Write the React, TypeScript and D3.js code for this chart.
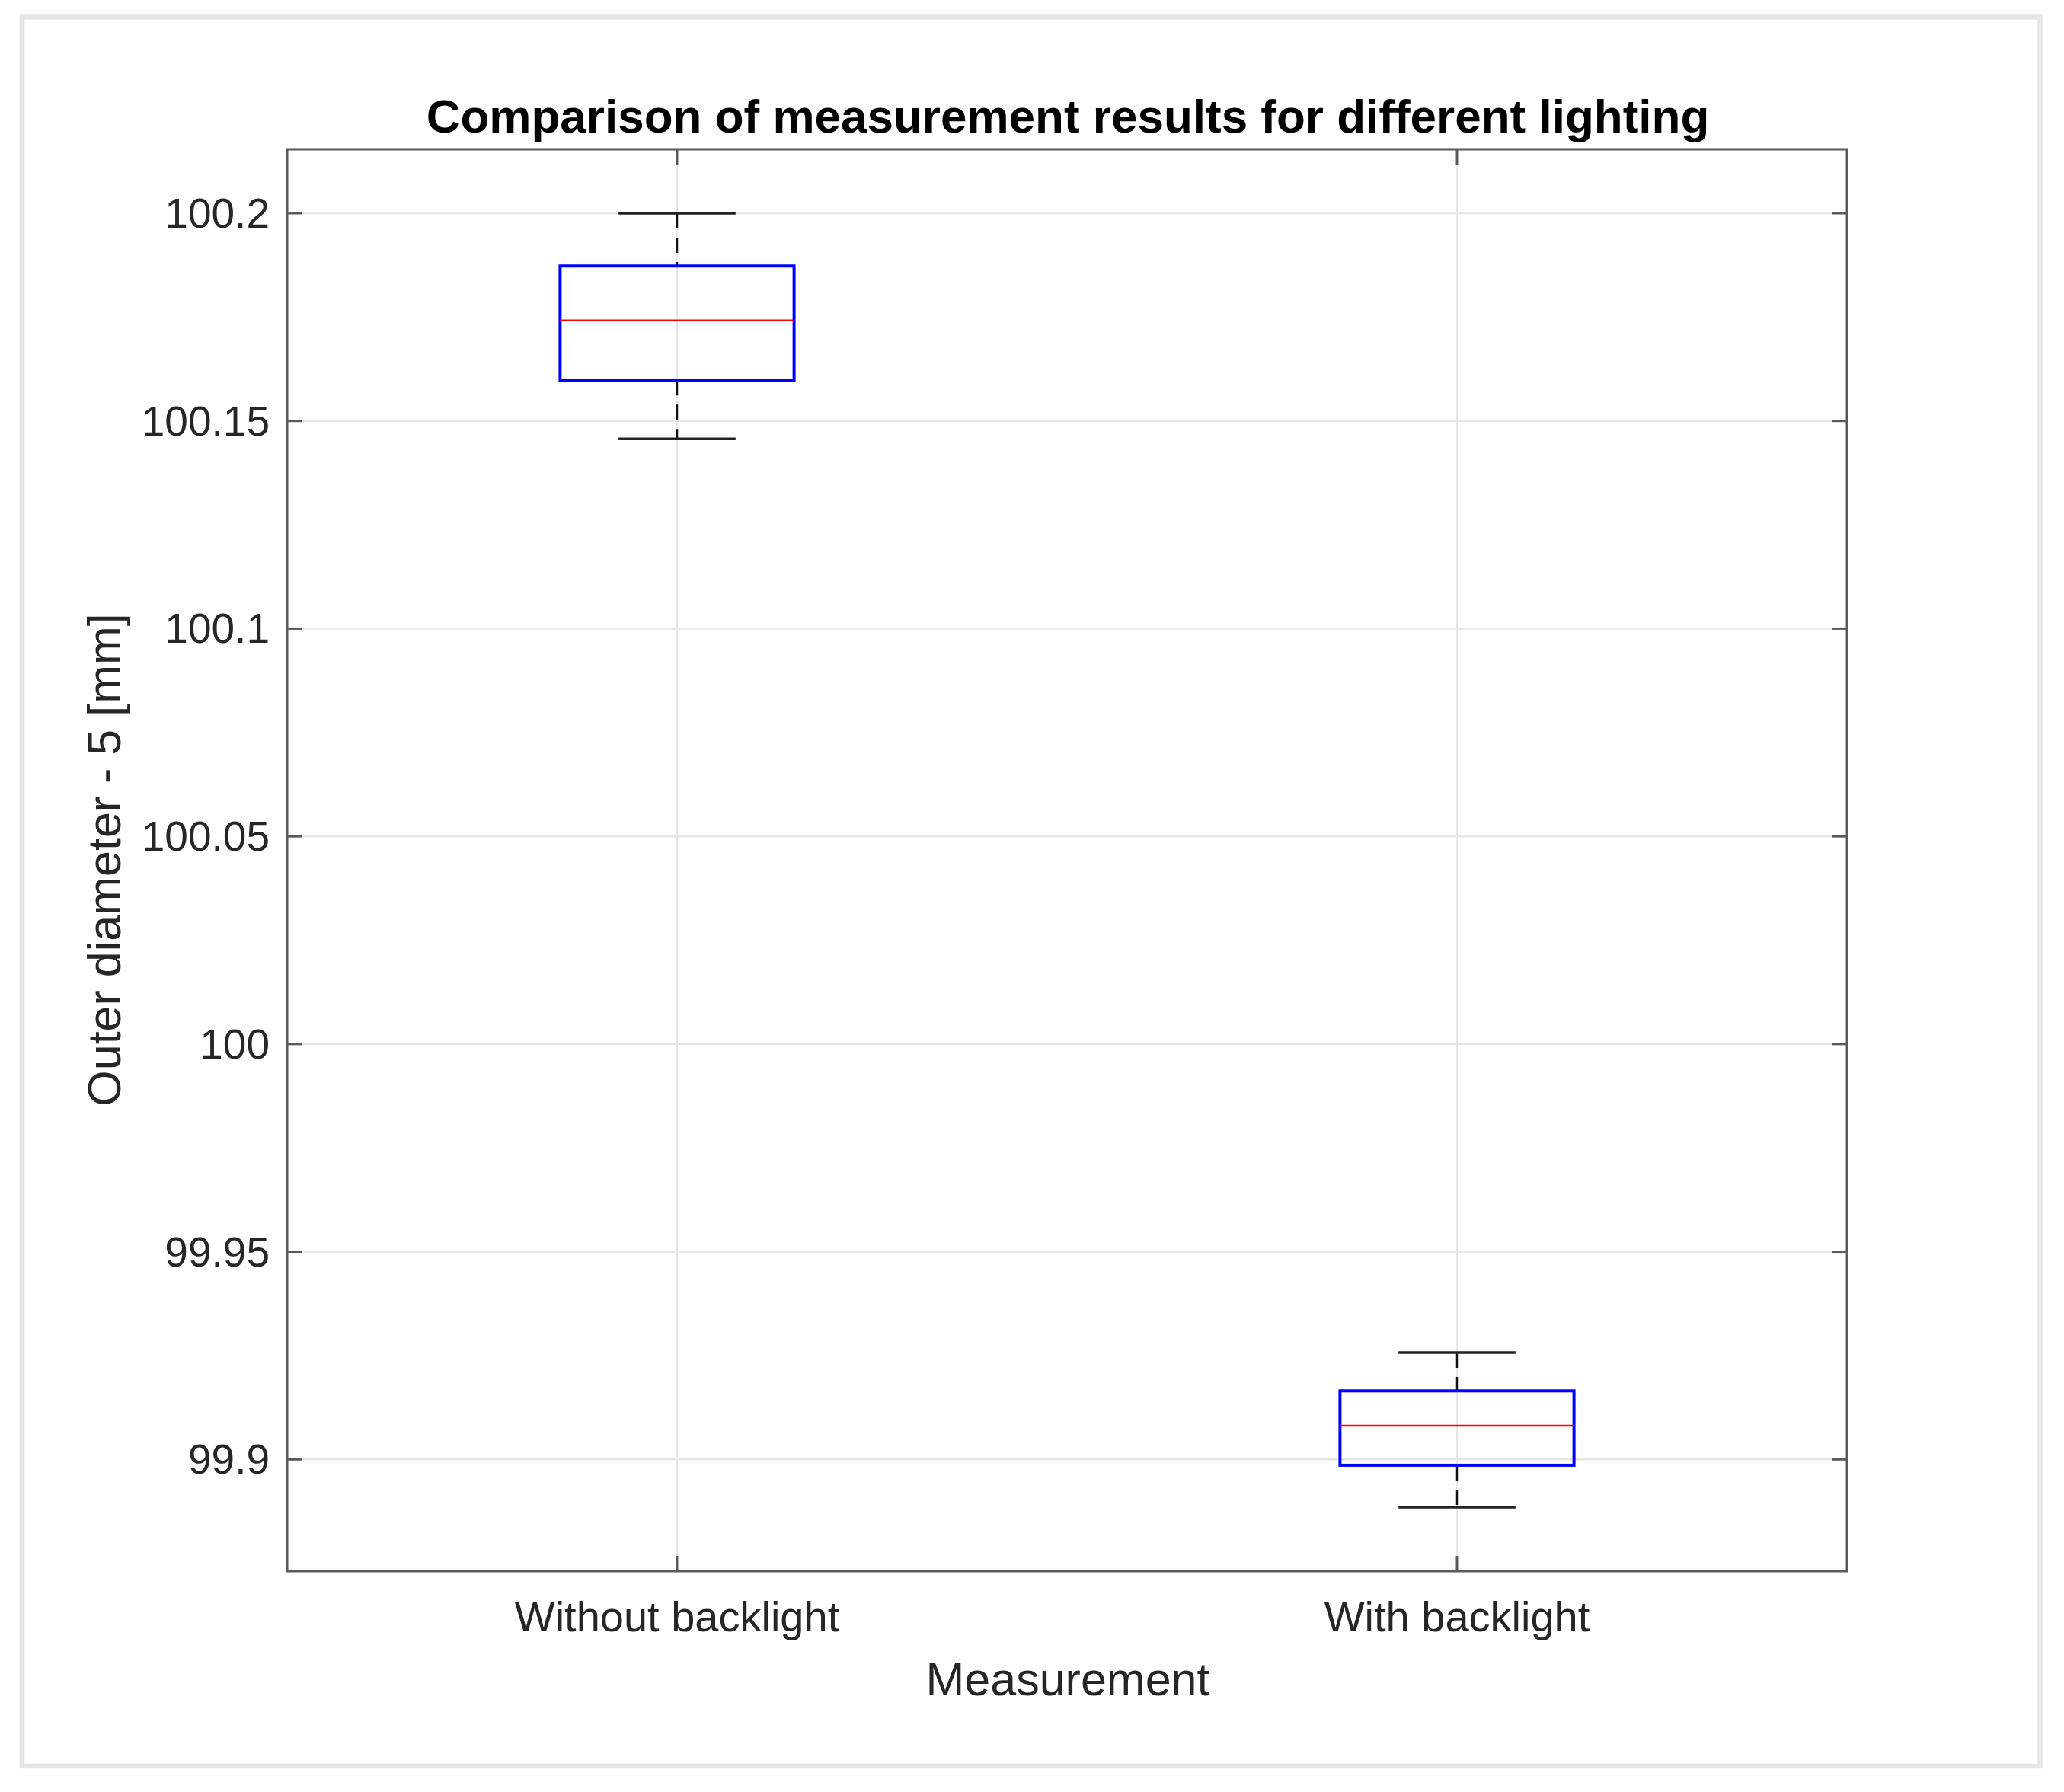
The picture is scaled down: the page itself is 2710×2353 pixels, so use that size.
import React from "react";
import * as d3 from "d3";

const categories = ["Without backlight", "With backlight"];
const upperWhisker = [100.2, 99.9257];
const q3Values = [100.1873, 99.9165];
const medians = [100.1742, 99.9081];
const q1Values = [100.1598, 99.8986];
const lowerWhisker = [100.1457, 99.8885];
const yTicks = [99.9, 99.95, 100, 100.05, 100.1, 100.15, 100.2];
const yTickLabels = ["99.9", "99.95", "100", "100.05", "100.1", "100.15", "100.2"];

const W = 2710;
const H = 2353;
const plot = { left: 377, right: 2425, top: 196, bottom: 2063 };
const FONT = "'Liberation Sans', Arial, Helvetica, sans-serif";

export default function App() {
  const y = d3.scaleLinear().domain([99.8731, 100.2154]).range([plot.bottom, plot.top]);
  const x = d3.scaleLinear().domain([0.5, 2.5]).range([plot.left, plot.right]);
  const boxHalf = 0.15;
  const capHalf = 0.075;
  const tickLen = 20;
  const axisColor = "#5a5a5a";
  const gridColor = "#e6e6e6";
  const textColor = "#262626";

  return (
    <svg
      width={W}
      height={H}
      style={{ position: "absolute", left: 0, top: 0, background: "#fff" }}
      fontFamily={FONT}
    >
      <rect x={0} y={0} width={W} height={H} fill="#fff" />
      {/* outer frame */}
      <rect x={29} y={22.5} width={2649.5} height={2296.5} fill="#fff" stroke="#e5e5e5" strokeWidth={6.5} />

      {/* grid */}
      {yTicks.map((t, i) => (
        <line key={"gy" + i} x1={plot.left} x2={plot.right} y1={y(t)} y2={y(t)} stroke={gridColor} strokeWidth={2.5} />
      ))}
      {categories.map((c, i) => (
        <line key={"gx" + i} x1={x(i + 1)} x2={x(i + 1)} y1={plot.top} y2={plot.bottom} stroke={gridColor} strokeWidth={2} />
      ))}

      {/* boxes */}
      {categories.map((c, i) => {
        const cx = x(i + 1);
        const bl = x(i + 1 - boxHalf);
        const br = x(i + 1 + boxHalf);
        const cl = x(i + 1 - capHalf);
        const cr = x(i + 1 + capHalf);
        return (
          <g key={"b" + i}>
            <line x1={cx} x2={cx} y1={y(upperWhisker[i])} y2={y(q3Values[i])} stroke="#111" strokeWidth={2.5} strokeDasharray="20,12" />
            <line x1={cx} x2={cx} y1={y(q1Values[i])} y2={y(lowerWhisker[i])} stroke="#111" strokeWidth={2.5} strokeDasharray="20,12" />
            <line x1={cl} x2={cr} y1={y(upperWhisker[i])} y2={y(upperWhisker[i])} stroke="#222" strokeWidth={3.5} />
            <line x1={cl} x2={cr} y1={y(lowerWhisker[i])} y2={y(lowerWhisker[i])} stroke="#222" strokeWidth={3.5} />
            <rect
              x={bl}
              y={y(q3Values[i])}
              width={br - bl}
              height={y(q1Values[i]) - y(q3Values[i])}
              fill="none"
              stroke="#0000ff"
              strokeWidth={4}
            />
            <line x1={bl} x2={br} y1={y(medians[i])} y2={y(medians[i])} stroke="#ff0000" strokeWidth={2.5} />
          </g>
        );
      })}

      {/* axes box */}
      <rect x={plot.left} y={plot.top} width={plot.right - plot.left} height={plot.bottom - plot.top} fill="none" stroke={axisColor} strokeWidth={3} />

      {/* y ticks */}
      {yTicks.map((t, i) => (
        <g key={"yt" + i}>
          <line x1={plot.left} x2={plot.left + tickLen} y1={y(t)} y2={y(t)} stroke={axisColor} strokeWidth={3} />
          <line x1={plot.right} x2={plot.right - tickLen} y1={y(t)} y2={y(t)} stroke={axisColor} strokeWidth={3} />
          <text x={plot.left - 23} y={y(t)} textAnchor="end" dominantBaseline="central" fontSize={55} fill={textColor}>
            {yTickLabels[i]}
          </text>
        </g>
      ))}

      {/* x ticks */}
      {categories.map((c, i) => (
        <g key={"xt" + i}>
          <line x1={x(i + 1)} x2={x(i + 1)} y1={plot.bottom} y2={plot.bottom - tickLen} stroke={axisColor} strokeWidth={3} />
          <line x1={x(i + 1)} x2={x(i + 1)} y1={plot.top} y2={plot.top + tickLen} stroke={axisColor} strokeWidth={3} />
          <text x={x(i + 1)} y={2142} textAnchor="middle" fontSize={56} fill={textColor}>
            {c}
          </text>
        </g>
      ))}

      {/* labels */}
      <text x={1402} y={174} textAnchor="middle" fontSize={62} fontWeight="bold" fill="#000">
        Comparison of measurement results for different lighting
      </text>
      <text x={1402} y={2226} textAnchor="middle" fontSize={61} fill={textColor}>
        Measurement
      </text>
      <text
        transform={`translate(158, 1129) rotate(-90)`}
        textAnchor="middle"
        fontSize={61}
        fill={textColor}
      >
        Outer diameter - 5 [mm]
      </text>
    </svg>
  );
}
